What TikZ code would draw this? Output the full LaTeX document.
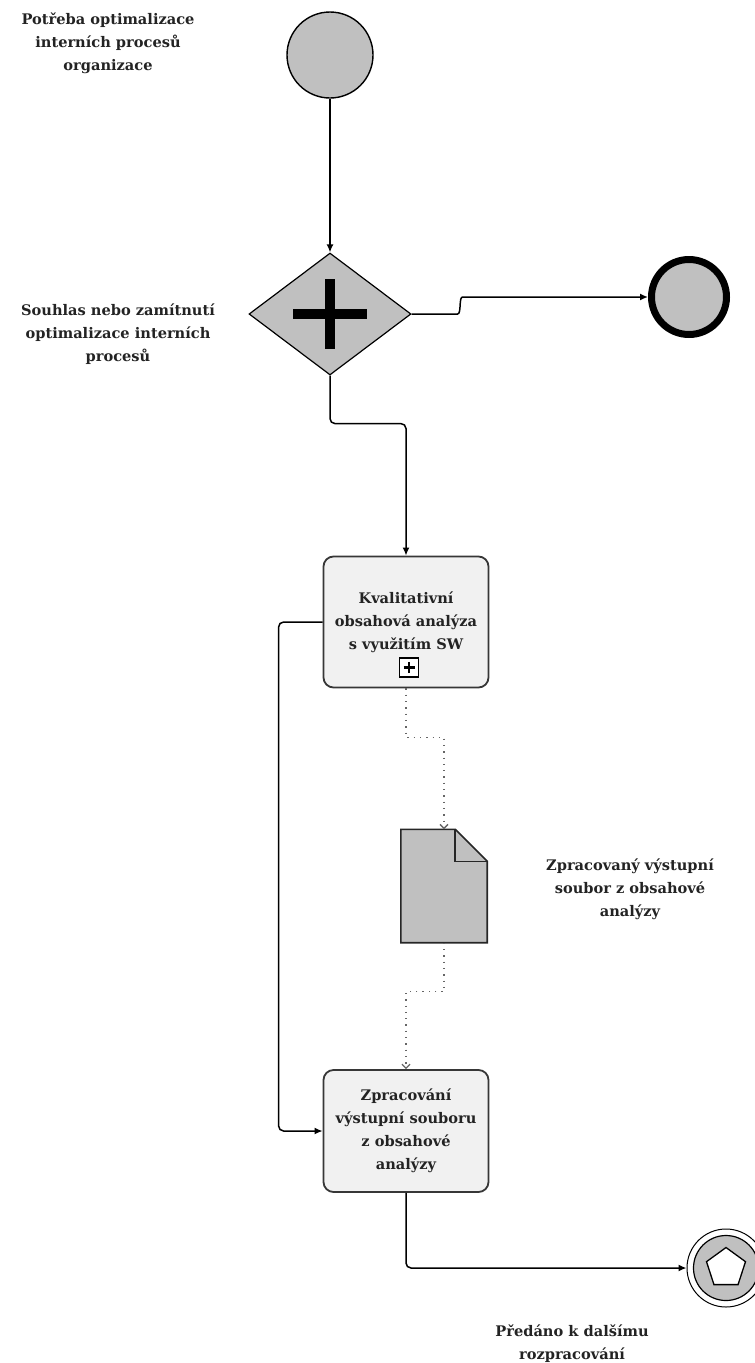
\documentclass[tikz,border=0pt]{standalone}
\usepackage{fontspec}
\setmainfont{DejaVu Serif}
\usetikzlibrary{shapes.geometric,arrows.meta,calc}
\definecolor{evgray}{RGB}{192,192,192}
\definecolor{taskfill}{RGB}{241,241,241}
\definecolor{taskline}{RGB}{55,55,55}
\definecolor{txt}{RGB}{35,35,35}
\begin{document}
\begin{tikzpicture}[x=1pt,y=-1pt,
  lbl/.style={font=\bfseries\fontsize{14.6}{23}\selectfont, align=center, text=txt, inner sep=0},
  task/.style={rectangle, rounded corners=10pt, draw=taskline, fill=taskfill, line width=1.8pt,
    font=\bfseries\fontsize{14.6}{23}\selectfont, align=center, text=txt, inner sep=0,
    minimum width=165pt},
  event/.style={circle, draw=black, fill=evgray, inner sep=0},
  flow/.style={draw=black, line width=1.5pt, rounded corners=5pt, -{Latex[length=8pt,width=7pt]}},
  assoc/.style={draw=black!60, line width=1.3pt, dash pattern=on 1.3pt off 5pt,
    -{Straight Barb[length=4pt,width=8pt]}},
  docshape/.style={draw=black!85, fill=evgray, line width=1.6pt, line join=miter}]
\useasboundingbox (0,0) rectangle (755,1363);

% events and gateway
\node[event, line width=1.4pt, minimum size=86pt] (start) at (330,55) {};
\node[diamond, draw=black, fill=evgray, line width=1.2pt, minimum width=162pt,
  minimum height=122pt, inner sep=0] (gw) at (330,314) {};
\draw[line width=10pt] ($(gw.center)+(0,-35)$) -- ($(gw.center)+(0,35)$);
\draw[line width=10pt] ($(gw.center)+(-37,0)$) -- ($(gw.center)+(37,0)$);
\node[event, line width=7pt, minimum size=75pt] (end1) at (689,297) {};

% tasks
\node[task, minimum height=131pt] (task1) at (406,622)
  {Kvalitativní\\obsahová analýza\\s využitím SW};
\node[draw=black, line width=1.3pt, fill=white, minimum size=19pt, inner sep=0]
  (mark) at ($(task1.south)+(3,-21)$) {};
\draw[line width=2.8pt] ($(mark.center)+(-5.5,0)$) -- ($(mark.center)+(5.5,0)$);
\draw[line width=2.8pt] ($(mark.center)+(0,-5.5)$) -- ($(mark.center)+(0,5.5)$);
\node[task, minimum height=122pt] (task2) at (406,1131)
  {Zpracování\\výstupní souboru\\z obsahové\\analýzy};

% data object with folded corner
\node[minimum width=86pt, minimum height=113pt, inner sep=0] (doc) at (444,886) {};
\draw[docshape] (doc.north west) -- ($(doc.north east)+(-32,0)$)
  -- ($(doc.north east)+(0,32)$) -- (doc.south east) -- (doc.south west) -- cycle;
\draw[docshape, fill=none] ($(doc.north east)+(-32,0)$) |- ($(doc.north east)+(0,32)$);

% end event with pentagon marker
\node[circle, draw=black, line width=1pt, minimum size=78pt, inner sep=0] (end2) at (726,1268) {};
\node[event, line width=1.2pt, minimum size=65pt] (end2in) at (end2) {};
\node[regular polygon, regular polygon sides=5, draw=black, fill=white, line width=1.3pt,
  minimum size=41pt, inner sep=0] (pent) at (end2) {};

% labels
\node[lbl] (lstart) at (108,43) {Potřeba optimalizace\\interních procesů\\organizace};
\node[lbl] (lgw) at (118,334) {Souhlas nebo zamítnutí\\optimalizace interních\\procesů};
\node[lbl] (ldoc) at (630,889) {Zpracovaný výstupní\\soubor z obsahové\\analýzy};
\node[lbl] (lend) at (572,1344) {Předáno k dalšímu\\rozpracování};

% sequence flows
\draw[flow] (start) -- (gw);
\draw[flow] (gw.east) -- ++(41,0) .. controls +(9,0) and +(-9,0) .. ++(15,-17) -- (end1);
\draw[flow] (gw.south) -- ++(0,48) -| (task1.north);
\draw[flow] (task1.west) -- ++(-44,0) |- (task2.west);
\draw[flow] (task2.south) |- (end2);

% data associations
\draw[assoc] (task1.south) -- ++(0,49) -| (doc.north);
\draw[assoc] (doc.south) -- ++(0,49) -| (task2.north);
\end{tikzpicture}
\end{document}
